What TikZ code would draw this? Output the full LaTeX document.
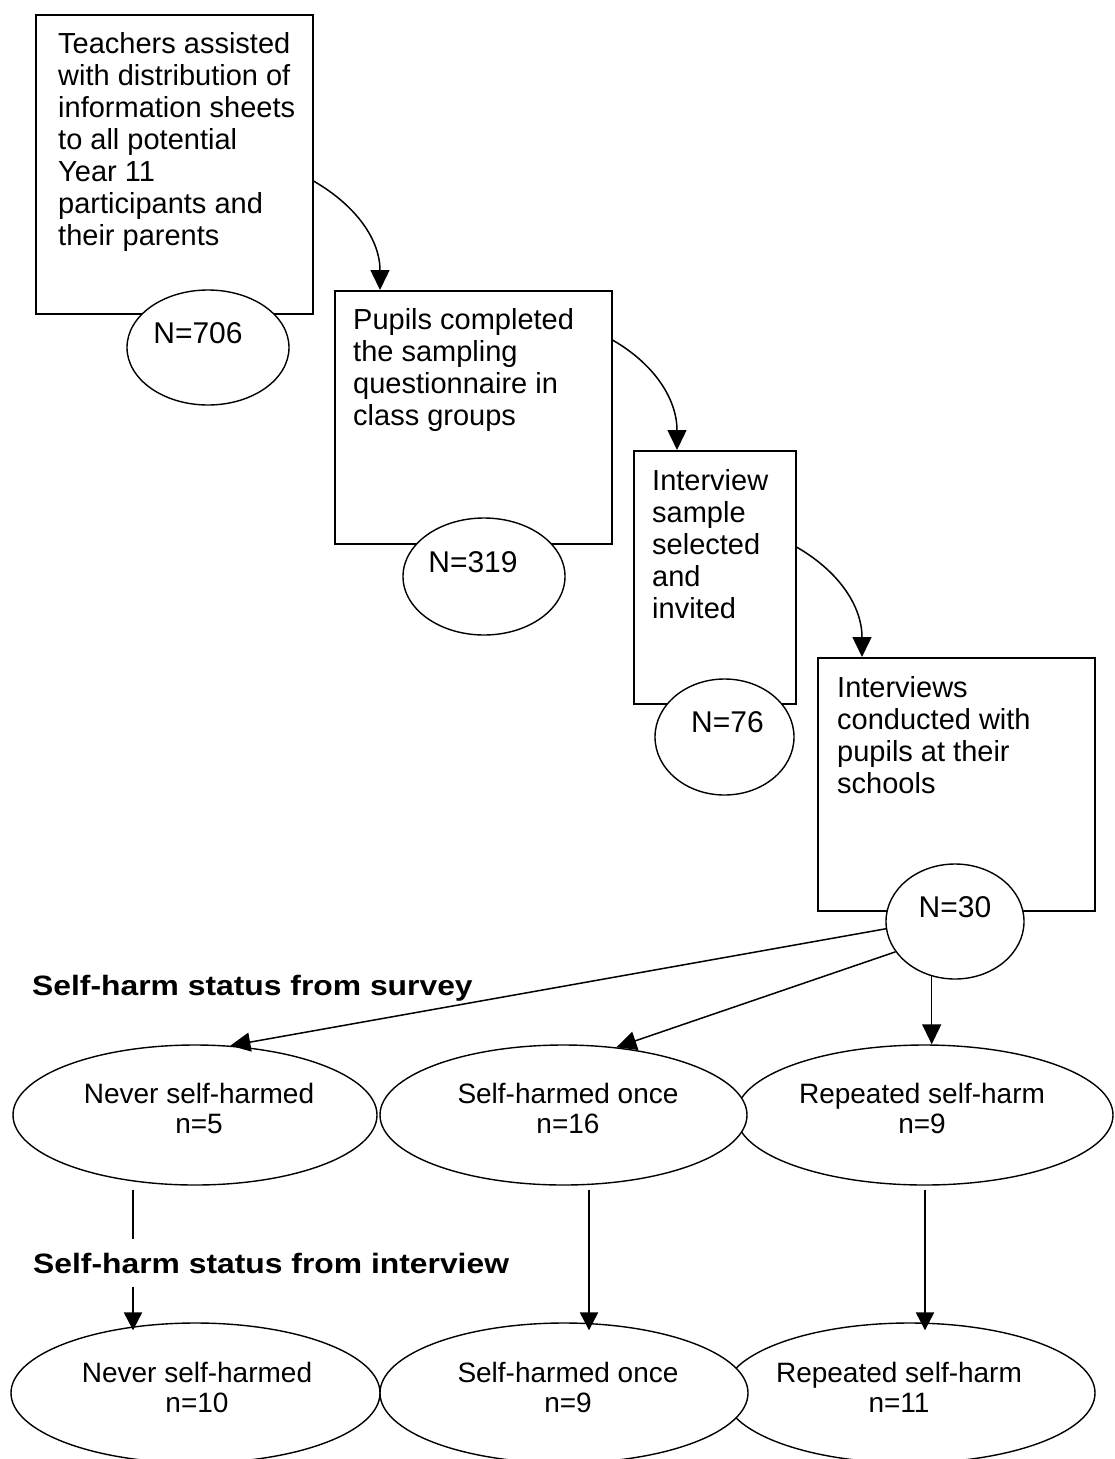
\documentclass[tikz,border=0pt]{standalone}
\usepackage{graphicx}
\usepackage{fontspec}
\setmainfont{Liberation Sans}
\usetikzlibrary{arrows.meta,shapes.geometric}

\begin{document}
\begin{tikzpicture}[x=1pt,y=1pt,
  stagebox/.style={draw, line width=1.5pt, rectangle, anchor=north west, inner sep=0pt},
  countoval/.style={draw, ellipse, fill=white, line width=1.4pt, inner sep=0pt},
  groupoval/.style={draw, ellipse, fill=white, line width=1.4pt, inner sep=0pt, minimum height=140pt},
  boxtext/.style={anchor=north west, inner sep=0pt, align=left, font=\fontsize{29}{32}\selectfont},
  counttext/.style={inner sep=0pt, font=\fontsize{30}{32}\selectfont},
  grouptext/.style={anchor=north, inner sep=0pt, align=center, font=\fontsize{28}{30}\selectfont},
  heading/.style={anchor=base west, inner sep=0pt, font=\bfseries\fontsize{28}{30}\selectfont},
  flow/.style={line width=1.5pt, -{Triangle[length=20pt,width=19pt]}},
  drop/.style={line width=2.4pt, -{Triangle[length=18pt,width=18pt]}},
]
\useasboundingbox[fill=white] (0,0) rectangle (1115,-1459);

% recruitment stages
\node[stagebox, minimum width=277pt, minimum height=299pt] (b1) at (35,-14) {};
\node[stagebox, minimum width=277pt, minimum height=253pt] (b2) at (334,-290) {};
\node[stagebox, minimum width=162pt, minimum height=253pt] (b3) at (633,-450) {};
\node[stagebox, minimum width=277pt, minimum height=253pt] (b4) at (817,-657) {};

\node[boxtext] (t1) at (58,-32) {Teachers assisted\\with distribution of\\information sheets\\to all potential\\Year 11\\participants and\\their parents};
\node[boxtext] (t2) at (353,-308) {Pupils completed\\the sampling\\questionnaire in\\class groups};
\node[boxtext] (t3) at (652,-469) {Interview\\sample\\selected\\and\\invited};
\node[boxtext] (t4) at (837,-676) {Interviews\\conducted with\\pupils at their\\schools};

% counts at each stage
\node[countoval, minimum width=162pt, minimum height=115pt] (e1) at (208,-347.5) {};
\node[countoval, minimum width=162pt, minimum height=117pt] (e2) at (484,-576.5) {};
\node[countoval, minimum width=139pt, minimum height=116pt] (e3) at (724.5,-737) {};
\node[countoval, minimum width=138pt, minimum height=115pt] (e4) at (955,-921.5) {};

\node[counttext] (n1) at ([shift={(-10,14)}]e1.center) {N=706};
\node[counttext] (n2) at ([shift={(-11,14)}]e2.center) {N=319};
\node[counttext] (n3) at ([shift={(3,15)}]e3.center) {N=76};
\node[counttext] (n4) at ([shift={(0,14)}]e4.center) {N=30};

% stage-to-stage arrows
\draw[flow] ([yshift=-167pt]b1.north east) to[out=-30,in=90] ([xshift=46pt]b2.north west);
\draw[flow] ([yshift=-50pt]b2.north east) to[out=-30,in=90] ([xshift=44pt]b3.north west);
\draw[flow] ([yshift=-97pt]b3.north east) to[out=-30,in=90] ([xshift=45pt]b4.north west);

% groups by survey status
\node[groupoval, minimum width=364pt] (e5) at (195,-1115) {};
\node[groupoval, minimum width=377pt] (e7) at (924.5,-1115) {};
\node[groupoval, minimum width=367pt] (e6) at (563.5,-1115) {};

% groups by interview status
\node[groupoval, minimum width=369pt] (e8) at (195.5,-1393) {};
\node[groupoval, minimum width=371pt] (e10) at (909.5,-1393) {};
\node[groupoval, minimum width=368pt] (e9) at (564,-1393) {};

\node[grouptext] (g5) at (199,-1083) {Never self-harmed\\n=5};
\node[grouptext] (g6) at (568,-1083) {Self-harmed once\\n=16};
\node[grouptext] (g7) at (922,-1083) {Repeated self-harm\\n=9};
\node[grouptext] (g8) at (197,-1362) {Never self-harmed\\n=10};
\node[grouptext] (g9) at (568,-1362) {Self-harmed once\\n=9};
\node[grouptext] (g10) at (899,-1362) {Repeated self-harm\\n=11};

% split of the interviewed pupils
\draw[flow] (e4.186) -- (e5.63);
\draw[flow] (e4.207) -- (e6.52.5);
\draw[flow] (e4.247) -- (e4.247 |- e7.north);

% survey status to interview status
\draw[drop] ([xshift=-62pt,yshift=-4pt]e5.south) -- ([xshift=-62.5pt,yshift=-8pt]e8.north);
\draw[drop] ([xshift=25.5pt,yshift=-4pt]e6.south) -- ([xshift=25pt,yshift=-8pt]e9.north);
\draw[drop] ([xshift=0.5pt,yshift=-4pt]e7.south) -- ([xshift=15.5pt,yshift=-8pt]e10.north);

% section headings
\node[heading] (h1) at (32,-995) {\scalebox{1.137}[1]{Self-harm status from survey}};
\node[heading, fill=white, inner ysep=14pt, inner xsep=1pt] (h2) at (32,-1273) {\scalebox{1.137}[1]{Self-harm status from interview}};
\end{tikzpicture}
\end{document}
